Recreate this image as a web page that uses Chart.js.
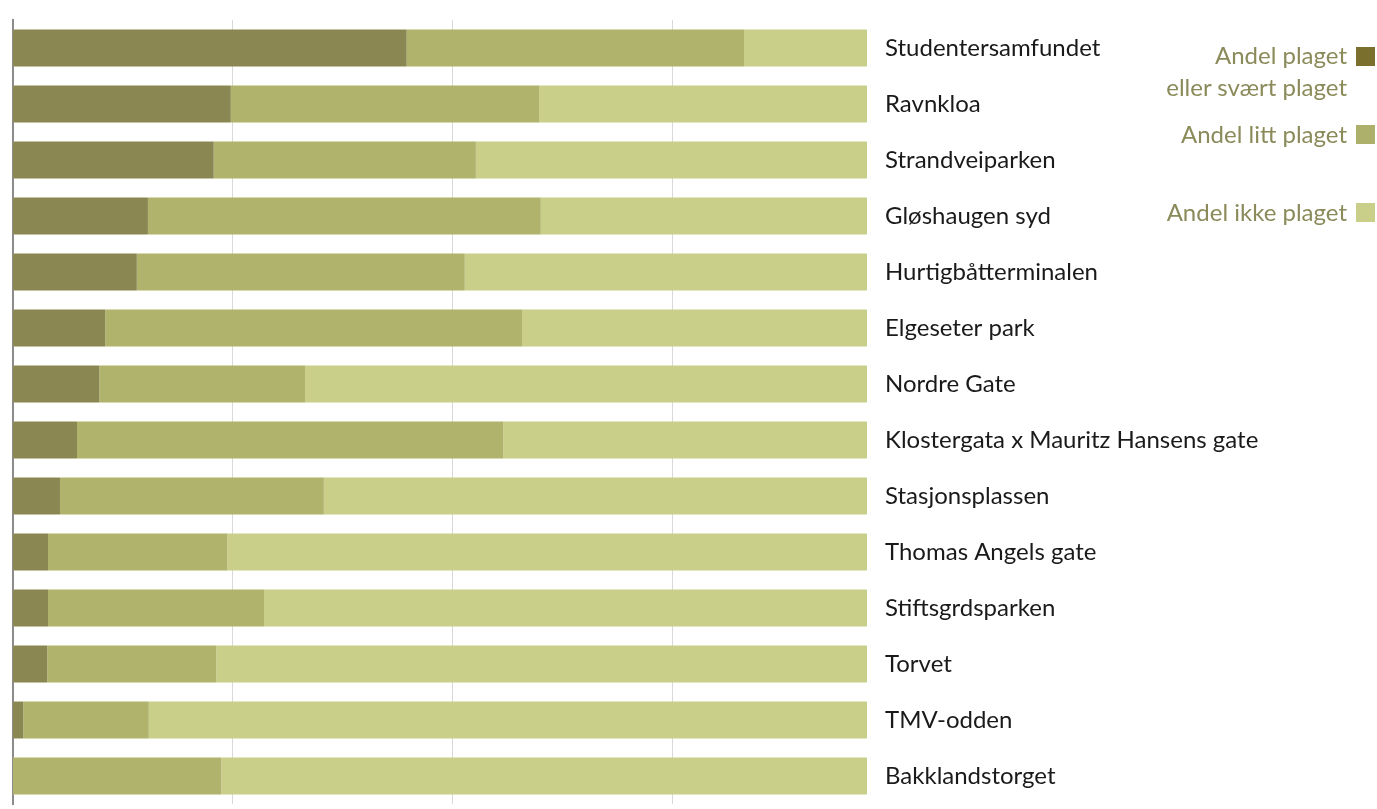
<!DOCTYPE html>
<html>
<head>
<meta charset="utf-8">
<script src="https://cdn.jsdelivr.net/npm/chart.js@4.4.1/dist/chart.umd.min.js"></script>
<style>
  html, body { margin: 0; padding: 0; background: #fff; }
  #wrap { position: relative; width: 1377px; height: 809px; }
  #legend { position: absolute; right: 0; top: 0; width: 300px; height: 240px;
            font-family: Lato, "Open Sans", sans-serif; font-size: 24px; color: #8a8a5a; }
  .item { position: absolute; right: 2px; display: flex; align-items: flex-start; }
  .item .txt { text-align: right; white-space: pre-line; line-height: 32px; }
  .item .sw { width: 19px; height: 19px; margin-left: 9px; }
</style>
</head>
<body>
<div id="wrap">
  <canvas id="graf" width="1377" height="809"></canvas>
  <div id="legend"></div>
</div>
<script>
const steder = [
  'Studentersamfundet', 'Ravnkloa', 'Strandveiparken', 'Gløshaugen syd',
  'Hurtigbåtterminalen', 'Elgeseter park', 'Nordre Gate',
  'Klostergata x Mauritz Hansens gate', 'Stasjonsplassen', 'Thomas Angels gate',
  'Stiftsgrdsparken', 'Torvet', 'TMV-odden', 'Bakklandstorget'
];
// andeler i prosent
const plaget     = [46.1, 25.5, 23.5, 15.8, 14.5, 10.8, 10.1,  7.5,  5.5,  4.1,  4.1,  4.0,  1.2,  0.0];
const littPlaget = [39.5, 36.1, 30.7, 46.0, 38.4, 48.8, 24.1, 49.9, 30.9, 21.0, 25.3, 19.8, 14.7, 24.4];
const ikkePlaget = [14.4, 38.4, 45.8, 38.2, 47.1, 40.4, 65.8, 42.6, 63.6, 74.9, 70.6, 76.2, 84.1, 75.6];

const serier      = ['Andel plaget eller svært plaget', 'Andel litt plaget', 'Andel ikke plaget'];
const legendTekst = ['Andel plaget\neller svært plaget', 'Andel litt plaget', 'Andel ikke plaget'];
const gridVerdier = [25.75, 51.5, 77.25];

const FARGER = ['#8b8753', '#afb36c', '#c9cf88'];
const SWATCH = ['#7a6f2c', '#adb06a', '#c9cf88'];
const FONT   = 'Lato, "Open Sans", sans-serif';

const datasett = [plaget, littPlaget, ikkePlaget].map((d, i) => ({
  label: serier[i], data: d, backgroundColor: FARGER[i],
  borderWidth: 0, barPercentage: 0.66, categoryPercentage: 1
}));

const utenPadding = s => { s.paddingTop = 0; s.paddingBottom = 0; };

new Chart(document.getElementById('graf'), {
  type: 'bar',
  data: { labels: steder, datasets: datasett },
  options: {
    indexAxis: 'y',
    responsive: false, animation: false,
    layout: { padding: { top: 20, bottom: 5, left: 12, right: 0 } },
    scales: {
      x: {
        stacked: true, min: 0, max: 100,
        afterBuildTicks: s => { s.ticks = gridVerdier.map(v => ({ value: v })); },
        ticks: { display: false },
        grid: { color: '#d9d9d9', lineWidth: 1, drawTicks: false },
        border: { display: false },
        afterFit: s => { s.height = 0; s.paddingLeft = 0; s.paddingRight = 0; }
      },
      y: {
        stacked: true,
        ticks: { display: false },
        grid: { display: false, drawTicks: false },
        border: { display: true, color: '#8c8c8c', width: 2 },
        afterFit: s => { s.width = 1; utenPadding(s); }
      },
      y2: {
        type: 'category', position: 'right', labels: steder, offset: true,
        ticks: { padding: 18, color: '#1a1a1a', font: { family: FONT, size: 24 } },
        grid: { display: false, drawTicks: false },
        border: { display: false },
        afterFit: s => { s.width = 510; utenPadding(s); }
      }
    },
    plugins: { legend: { display: false }, tooltip: { enabled: false } }
  }
});

const topper   = [39, 118, 196];
const swTopper = [8, 7, 7];
document.getElementById('legend').innerHTML = legendTekst.map((t, i) => `
  <div class="item" style="top:${topper[i]}px">
    <div class="txt">${t}</div>
    <div class="sw" style="background:${SWATCH[i]};margin-top:${swTopper[i]}px"></div>
  </div>`).join('');
</script>
</body>
</html>
